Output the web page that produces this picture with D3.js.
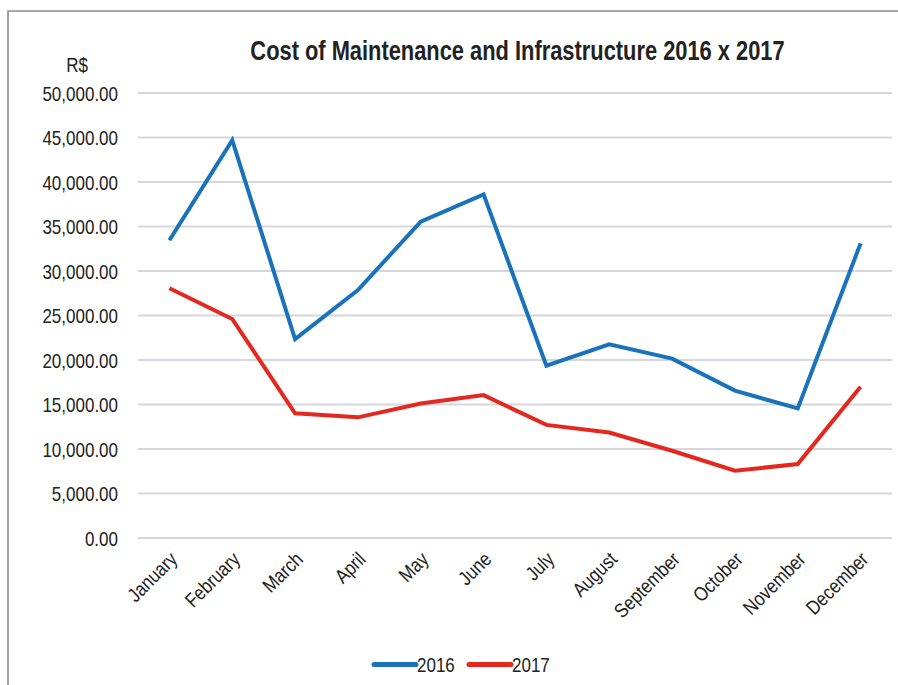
<!DOCTYPE html>
<html>
<head>
<meta charset="utf-8">
<script src="https://cdn.jsdelivr.net/npm/d3@7"></script>
<style>
  body { margin: 0; background: #fff; }
  text { font-family: "Liberation Sans Narrow", "Arial Narrow", "Liberation Sans", Arial, sans-serif; fill: #222; }
</style>
</head>
<body>
<script>
// chart data
var months = ["January","February","March","April","May","June","July","August","September","October","November","December"];
var cost2016 = [33400, 44650, 22300, 27800, 35500, 38550, 19300, 21700, 20100, 16500, 14500, 33050];
var cost2017 = [28000, 24550, 13950, 13500, 15050, 16000, 12650, 11800, 9750, 7500, 8250, 16950];
var seriesNames = ["2016", "2017"];
var yTicks = [0, 5000, 10000, 15000, 20000, 25000, 30000, 35000, 40000, 45000, 50000];

var W = 898, H = 685;
var colors = ["#1a72ba", "#e5281f"];
var narrow = 0.85; // squeeze text, no narrow font installed

var svg = d3.select("body").append("svg")
    .attr("width", W)
    .attr("height", H);

// frame
svg.append("path")
    .attr("d", "M8," + (H + 5) + "V11H" + (W + 5))
    .attr("fill", "none")
    .attr("stroke", "#8a8a8a")
    .attr("stroke-width", 1.6);

var x = d3.scaleBand()
    .domain(months)
    .range([138, 892]);
var y = d3.scaleLinear()
    .domain([0, 50000])
    .range([537.5, 92.5]);

// gridlines + y labels
var yAxis = d3.axisLeft(y)
    .tickValues(yTicks)
    .tickSize(-(892 - 138))
    .tickFormat(d3.format(",.2f"));
var gy = svg.append("g")
    .attr("transform", "translate(138,0)")
    .call(yAxis);
gy.select(".domain").remove();
gy.selectAll(".tick line")
    .attr("stroke", "#d5d7df")
    .attr("stroke-width", 2.2);
gy.selectAll(".tick text")
    .attr("x", 0)
    .attr("dy", "0.38em")
    .attr("transform", "translate(-20,0) scale(" + narrow + ",1)")
    .style("font-size", "20px");

svg.append("text")
    .attr("transform", "translate(77,71.5) scale(" + narrow + ",1)")
    .attr("text-anchor", "middle")
    .style("font-size", "20px")
    .text("R$");

// x labels
var xAxis = d3.axisBottom(x).tickSize(0);
var gx = svg.append("g")
    .attr("transform", "translate(0,537.5)")
    .call(xAxis);
gx.select(".domain").remove();
gx.selectAll(".tick text")
    .attr("text-anchor", "end")
    .attr("dy", null)
    .attr("y", 0)
    .attr("transform", "translate(9,23) rotate(-45) scale(" + narrow + ",1)")
    .style("font-size", "20px");

// title
svg.append("text")
    .attr("transform", "translate(517.5,60) scale(0.81,1)")
    .attr("text-anchor", "middle")
    .style("font-size", "27px")
    .style("font-weight", "bold")
    .text("Cost of Maintenance and Infrastructure 2016 x 2017");

// lines
var line = d3.line()
    .x(function (d, i) { return x(months[i]) + x.bandwidth() / 2; })
    .y(function (d) { return y(d); });

[cost2016, cost2017].forEach(function (s, k) {
    svg.append("path")
        .datum(s)
        .attr("d", line)
        .attr("fill", "none")
        .attr("stroke", colors[k])
        .attr("stroke-width", 4)
        .attr("stroke-linejoin", "miter")
        .attr("stroke-linecap", "butt");
});

// legend
var legX = [374, 469];
seriesNames.forEach(function (name, k) {
    svg.append("line")
        .attr("x1", legX[k]).attr("x2", legX[k] + 42)
        .attr("y1", 664.5).attr("y2", 664.5)
        .attr("stroke", colors[k])
        .attr("stroke-width", 5)
        .attr("stroke-linecap", "round");
    svg.append("text")
        .attr("transform", "translate(" + (legX[k] + 43) + ",671.5) scale(" + narrow + ",1)")
        .style("font-size", "20px")
        .text(name);
});
</script>
</body>
</html>
